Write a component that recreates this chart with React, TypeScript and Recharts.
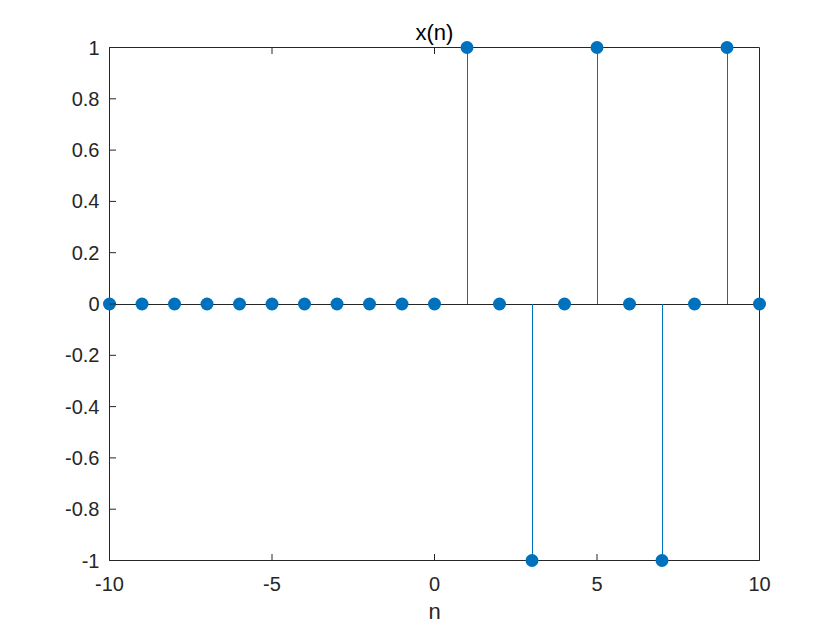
import React from 'react';
import { ComposedChart, Scatter, XAxis, YAxis, ReferenceLine, Label } from 'recharts';

// sample index n and signal x(n)
const nValues = [-10, -9, -8, -7, -6, -5, -4, -3, -2, -1, 0, 1, 2, 3, 4, 5, 6, 7, 8, 9, 10];
const xValues = [0, 0, 0, 0, 0, 0, 0, 0, 0, 0, 0, 1, 0, -1, 0, 1, 0, -1, 0, 1, 0];
const xTicks = [-10, -5, 0, 5, 10];
const yTicks = [-1, -0.8, -0.6, -0.4, -0.2, 0, 0.2, 0.4, 0.6, 0.8, 1];

const data = nValues.map((n, i) => ({ n, v: xValues[i] }));

const ink = '#262626';
const blue = '#0072BD';
const font = 'Arial, "Liberation Sans", Helvetica, sans-serif';
const tickLen = 6.5;

const BottomTick = (p: any) => (
  <g>
    <line x1={p.x} x2={p.x} y1={p.y} y2={p.y - tickLen} stroke={ink} />
    <text x={p.x} y={p.y + 30} textAnchor="middle" fill={ink} fontSize={20} fontFamily={font}>
      {p.payload.value}
    </text>
  </g>
);

const TopTick = (p: any) => <line x1={p.x} x2={p.x} y1={p.y} y2={p.y + tickLen} stroke={ink} />;

const LeftTick = (p: any) => (
  <g>
    <line x1={p.x} x2={p.x + tickLen} y1={p.y} y2={p.y} stroke={ink} />
    <text x={p.x - 10} y={p.y + 7} textAnchor="end" fill={ink} fontSize={20} fontFamily={font}>
      {p.payload.value}
    </text>
  </g>
);

const RightTick = (p: any) => <line x1={p.x} x2={p.x - tickLen} y1={p.y} y2={p.y} stroke={ink} />;

const Dot = (p: any) => <circle cx={p.cx} cy={p.cy} r={6.5} fill={blue} />;

const App = () => {
  return (
    <div style={{ position: 'absolute', left: 0, top: 0, background: '#fff' }}>
      <ComposedChart width={840} height={630} data={data} margin={{ top: 37.5, right: 70.5, bottom: 29.5, left: 49.5 }}>
        <XAxis
          dataKey="n"
          type="number"
          domain={[-10, 10]}
          ticks={xTicks}
          interval={0}
          height={40}
          tickSize={0}
          tickMargin={0}
          tickLine={false}
          stroke={ink}
          tick={BottomTick}
        >
          <Label
            content={(lp: any) => (
              <text
                x={lp.viewBox.x + lp.viewBox.width / 2}
                y={lp.viewBox.y + 58.5}
                textAnchor="middle"
                fill={ink}
                fontSize={22}
                fontFamily={font}
              >
                n
              </text>
            )}
          />
        </XAxis>
        <XAxis
          xAxisId="top"
          orientation="top"
          type="number"
          domain={[-10, 10]}
          ticks={xTicks}
          interval={0}
          height={10}
          tickSize={0}
          tickMargin={0}
          tickLine={false}
          stroke={ink}
          tick={TopTick}
        >
          <Label
            content={(lp: any) => (
              <text
                x={lp.viewBox.x + lp.viewBox.width / 2}
                y={lp.viewBox.y + lp.viewBox.height - 7.5}
                textAnchor="middle"
                fill="#000"
                fontSize={22}
                fontFamily={font}
              >
                x(n)
              </text>
            )}
          />
        </XAxis>
        <YAxis
          dataKey="v"
          type="number"
          domain={[-1, 1]}
          ticks={yTicks}
          interval={0}
          width={60}
          tickSize={0}
          tickMargin={0}
          tickLine={false}
          stroke={ink}
          tick={LeftTick}
        />
        <YAxis
          yAxisId="right"
          orientation="right"
          type="number"
          domain={[-1, 1]}
          ticks={yTicks}
          interval={0}
          width={10}
          tickSize={0}
          tickMargin={0}
          tickLine={false}
          stroke={ink}
          tick={RightTick}
        />
        <ReferenceLine y={0} stroke={ink} strokeWidth={1} shapeRendering="crispEdges" />
        {data
          .filter((d) => d.v !== 0)
          .map((d) => (
            <ReferenceLine
              key={d.n}
              segment={[
                { x: d.n, y: 0 },
                { x: d.n, y: d.v },
              ]}
              stroke={blue}
              strokeWidth={1}
              shapeRendering="crispEdges"
            />
          ))}
        <Scatter dataKey="v" fill={blue} shape={Dot} isAnimationActive={false} />
      </ComposedChart>
    </div>
  );
};

export default App;
